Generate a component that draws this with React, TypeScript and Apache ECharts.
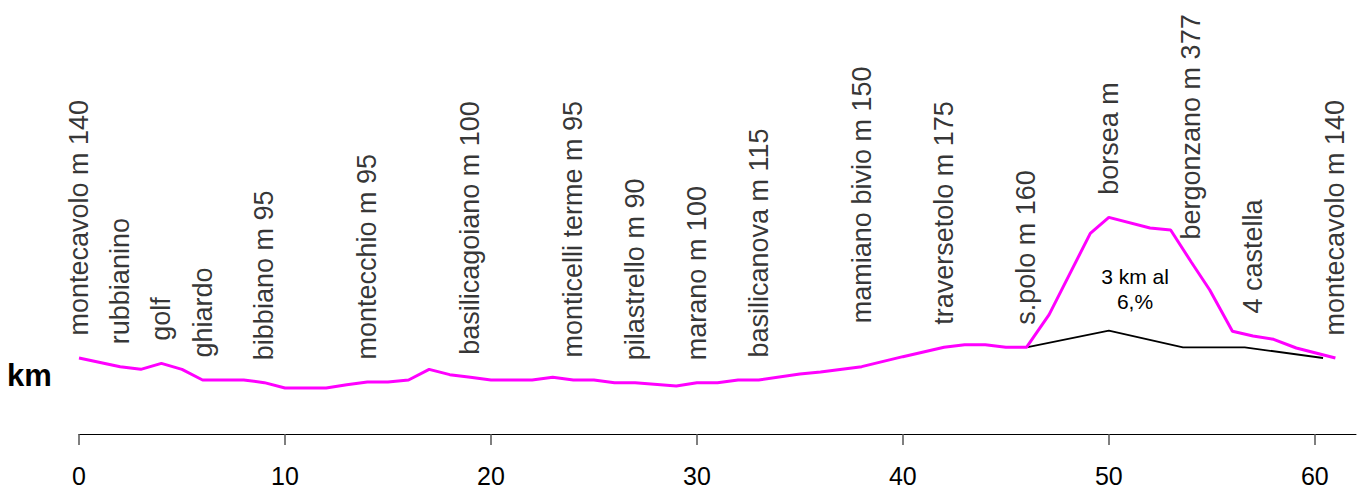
import React, { useEffect, useRef } from "react";
import * as echarts from "echarts";

// Elevation profile (km along route, elevation in m) – magenta line
const profileKm = [0, 2, 3, 4, 5, 6, 8, 9, 10, 12, 13, 14, 15, 16, 17, 18, 19, 20, 22, 23, 24, 25, 26, 27, 29, 30, 31, 32, 33, 35, 36, 38, 40, 42, 43, 44, 45, 46, 47.1, 49.1, 50, 52, 53, 54, 54.9, 56, 57, 58, 59.1, 61];
const profileElev = [139, 126, 122, 131, 122, 106, 106, 102, 94, 94, 99, 103, 103, 106, 122, 114, 110, 106, 106, 110, 106, 106, 102, 102, 97, 102, 102, 106, 106, 115, 118, 126, 141, 155, 159, 159, 155, 155, 204, 326, 350, 334, 331, 283, 241, 179, 172, 167, 154, 139];

// Alternative (main road) route – black line
const roadKm = [46, 50, 53.6, 56.6, 60.4];
const roadElev = [155, 180, 155, 155, 139];

// Place names and the km where they are marked
const placeNames = [
  "montecavolo m 140", "rubbianino", "golf", "ghiardo", "bibbiano m 95", "montecchio m 95",
  "basilicagoiano m 100", "monticelli terme m 95", "pilastrello m 90", "marano m 100",
  "basilicanova m 115", "mamiano bivio m 150", "traversetolo m 175", "s.polo m 160",
  "borsea m", "bergonzano m 377", "4 castella", "montecavolo m 140",
];
const placeKm = [0, 2, 4, 6, 9, 14, 19, 24, 27, 30, 33, 38, 42, 46, 50, 54, 57, 61];

const xTicks = [0, 10, 20, 30, 40, 50, 60];
const unitLabel = "km";
const climbNote = "3 km al\n6,%";

export default function App() {
  const ref = useRef<HTMLDivElement>(null);
  useEffect(() => {
    if (!ref.current) return;
    const chart = echarts.init(ref.current, null, { renderer: "svg" });
    const font = "'Liberation Sans', Arial, Helvetica, sans-serif";
    const profile = profileKm.map((k, i) => [k, profileElev[i]]);
    const road = roadKm.map((k, i) => [k, roadElev[i]]);
    const labelData = placeKm.map((k, i) => {
      const idx = profileKm.indexOf(k);
      const item: any = { name: placeNames[i], value: [k, profileElev[idx]] };
      if (placeNames[i].startsWith("mamiano")) item.label = { distance: 43 };
      return item;
    });
    chart.setOption({
      animation: false,
      grid: { left: 79, right: 14, top: 134, bottom: 56 },
      xAxis: {
        type: "value",
        min: 0,
        max: 62,
        axisLine: { onZero: false, lineStyle: { color: "#000", width: 1 } },
        axisTick: { show: true, length: 11, customValues: xTicks, lineStyle: { color: "#555", width: 1.5 } },
        axisLabel: { customValues: xTicks, margin: 29, fontSize: 25, color: "#000", fontFamily: font },
        splitLine: { show: false },
      },
      yAxis: { type: "value", min: 25, max: 475, show: false },
      series: [
        {
          type: "line",
          data: road,
          symbol: "none",
          lineStyle: { color: "#000", width: 1.8 },
          silent: true,
          z: 2,
        },
        {
          type: "line",
          data: profile,
          symbol: "none",
          lineStyle: { color: "#FF00FF", width: 3 },
          silent: true,
          z: 3,
        },
        {
          type: "scatter",
          data: labelData,
          symbolSize: 1,
          itemStyle: { color: "rgba(0,0,0,0)" },
          silent: true,
          z: 4,
          label: {
            show: true,
            position: "top",
            distance: 22,
            rotate: 90,
            align: "left",
            verticalAlign: "middle",
            formatter: "{b}",
            fontSize: 27,
            color: "#000",
            fontFamily: font,
          },
        },
      ],
      graphic: [
        {
          type: "text",
          x: 7,
          y: 375,
          style: { text: unitLabel, fontSize: 31, fontWeight: "bold", fontFamily: font, fill: "#000", align: "left", verticalAlign: "middle" },
        },
        {
          type: "text",
          x: 1135,
          y: 288.5,
          style: { text: climbNote, fontSize: 21, lineHeight: 25, fontFamily: font, fill: "#000", align: "center", verticalAlign: "middle" },
        },
      ],
    });
    return () => chart.dispose();
  }, []);
  return <div ref={ref} style={{ position: "fixed", left: 0, top: 0, width: 1370, height: 490, background: "#fff" }} />;
}
